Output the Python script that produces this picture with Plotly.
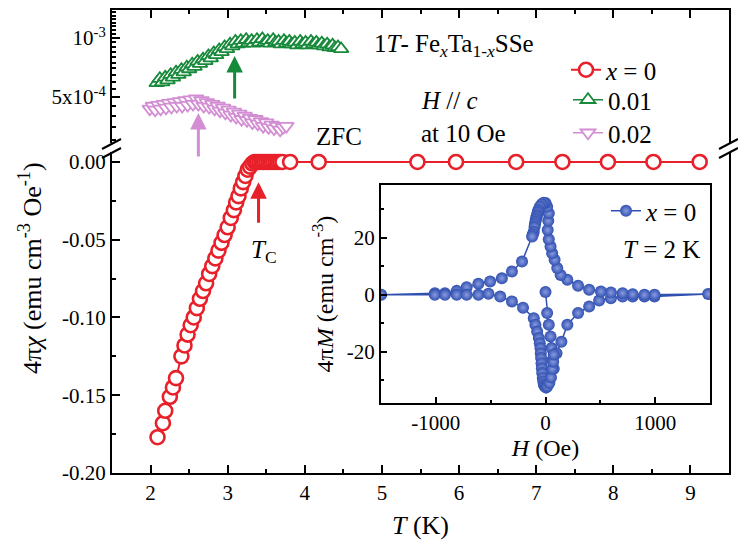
import math

import plotly.graph_objects as go

# =============================================================================
# DATOS
# =============================================================================

# ZFC, x = 0 (panel inferior)
T_x0 = [
    2.09, 2.16, 2.19, 2.25, 2.29, 2.33, 2.40, 2.44, 2.48, 2.52,
    2.56, 2.60, 2.64, 2.68, 2.72, 2.76, 2.80, 2.84, 2.88, 2.92,
    2.96, 3.00, 3.04, 3.08, 3.11, 3.14, 3.17, 3.20, 3.23, 3.26,
    3.29, 3.32, 3.35, 3.38, 3.41, 3.44, 3.47, 3.50, 3.53, 3.56,
    3.59, 3.62, 3.65, 3.68, 3.71, 3.81, 4.18, 5.46, 5.96, 6.74,
    7.34, 7.93, 8.52, 9.12,
]
chi_x0 = [
    -0.177, -0.168, -0.160, -0.151, -0.145, -0.139, -0.125, -0.118, -0.111, -0.105,
    -0.100, -0.094, -0.088, -0.083, -0.078, -0.072, -0.067, -0.062, -0.057, -0.052,
    -0.047, -0.042, -0.036, -0.031, -0.026, -0.022, -0.017, -0.013, -0.009, -0.005,
    -0.003, -0.001, 0.0, 0.0, 0.0, 0.0, 0.0, 0.0, 0.0, 0.0,
    0.0, 0.0, 0.0, 0.0, 0.0, 0.0, 0.0, 0.0, 0.0, 0.0,
    0.0, 0.0, 0.0, 0.0,
]

# x = 0.01 (panel superior, escala log)
T_x001 = [
    2.08, 2.12, 2.15, 2.19, 2.22, 2.26, 2.29, 2.33, 2.36, 2.40,
    2.43, 2.47, 2.50, 2.54, 2.57, 2.61, 2.64, 2.68, 2.71, 2.75,
    2.78, 2.82, 2.85, 2.89, 2.92, 2.96, 2.99, 3.03, 3.06, 3.10,
    3.13, 3.17, 3.20, 3.24, 3.27, 3.31, 3.34, 3.38, 3.41, 3.45,
    3.48, 3.52, 3.55, 3.59, 3.62, 3.66, 3.69, 3.73, 3.76, 3.80,
    3.83, 3.87, 3.90, 3.94, 3.97, 4.01, 4.04, 4.08, 4.11, 4.15,
    4.18, 4.22, 4.25, 4.29, 4.32, 4.36, 4.39, 4.43, 4.47,
]
chi_x001 = [
    5.90e-4, 6.20e-4, 5.95e-4, 6.30e-4, 6.10e-4, 6.50e-4, 6.30e-4, 6.70e-4, 6.50e-4, 6.90e-4,
    6.70e-4, 7.10e-4, 6.95e-4, 7.35e-4, 7.15e-4, 7.60e-4, 7.40e-4, 7.80e-4, 7.65e-4, 8.10e-4,
    7.90e-4, 8.40e-4, 8.20e-4, 8.70e-4, 8.50e-4, 9.00e-4, 8.80e-4, 9.30e-4, 9.10e-4, 9.60e-4,
    9.30e-4, 9.70e-4, 9.40e-4, 9.80e-4, 9.45e-4, 9.70e-4, 9.40e-4, 9.80e-4, 9.50e-4, 9.90e-4,
    9.50e-4, 9.70e-4, 9.40e-4, 9.80e-4, 9.50e-4, 9.60e-4, 9.30e-4, 9.70e-4, 9.40e-4, 9.60e-4,
    9.30e-4, 9.50e-4, 9.20e-4, 9.60e-4, 9.30e-4, 9.50e-4, 9.20e-4, 9.60e-4, 9.30e-4, 9.50e-4,
    9.20e-4, 9.40e-4, 9.10e-4, 9.30e-4, 9.00e-4, 9.20e-4, 8.90e-4, 9.00e-4, 8.80e-4,
]

# x = 0.02 (panel superior, escala log)
T_x002 = [
    1.99, 2.03, 2.06, 2.10, 2.13, 2.17, 2.20, 2.24, 2.27, 2.31,
    2.34, 2.38, 2.41, 2.45, 2.48, 2.52, 2.55, 2.59, 2.62, 2.66,
    2.69, 2.73, 2.76, 2.80, 2.83, 2.87, 2.90, 2.94, 2.97, 3.01,
    3.04, 3.08, 3.11, 3.15, 3.18, 3.22, 3.25, 3.29, 3.32, 3.36,
    3.39, 3.43, 3.46, 3.50, 3.53, 3.57, 3.60, 3.64, 3.68, 3.72,
    3.76,
]
chi_x002 = [
    4.35e-4, 4.50e-4, 4.30e-4, 4.55e-4, 4.35e-4, 4.60e-4, 4.40e-4, 4.65e-4, 4.45e-4, 4.70e-4,
    4.50e-4, 4.75e-4, 4.50e-4, 4.80e-4, 4.55e-4, 4.85e-4, 4.60e-4, 4.90e-4, 4.60e-4, 4.80e-4,
    4.50e-4, 4.70e-4, 4.45e-4, 4.60e-4, 4.35e-4, 4.50e-4, 4.25e-4, 4.40e-4, 4.15e-4, 4.30e-4,
    4.05e-4, 4.20e-4, 3.95e-4, 4.10e-4, 3.85e-4, 4.00e-4, 3.80e-4, 3.90e-4, 3.70e-4, 3.85e-4,
    3.65e-4, 3.75e-4, 3.55e-4, 3.70e-4, 3.50e-4, 3.60e-4, 3.45e-4, 3.55e-4, 3.40e-4, 3.50e-4,
    3.55e-4,
]

# Ciclo M(H) a T = 2 K (inset)
H_loop = [
    0, 15, 30, 46, 55, 65, 75,
    100, 145, 199, 297, 398, 489, 596, 703, 795, 902, 994, 1483,
    994, 902, 795, 703, 596, 505, 398, 297, 199, 138,
    107, 83, 61, 46, 30, 20, 25, 30, 15, 0,
    -16, -35, -52, -65, -71, -78, -83, -88, -92, -96,
    -100, -107, -115, -122, -214, -306, -398, -505, -612, -719,
    -810, -917, -1009, -1498,
    -1009, -917, -810, -719, -612, -520, -413, -306, -205, -107,
    -92, -76, -61, -52, -46, -43, -40, -36, -33, -30,
    -25, -20, -15, -5, 5, 15, 35, 50, 62, 70, 75,
]
M_loop = [
    1.0, -6.4, -10.5, -14.6, -18.7, -22.8, -26.0,
    -20.5, -16.5, -10.5, -6.4, -4.1, -2.0, -1.2, -0.6, -0.6, -0.6, -0.6, 0.3,
    0.0, 0.0, 0.2, 0.6, 0.8, 1.2, 1.8, 3.2, 5.3, 7.0,
    9.4, 12.3, 14.6, 17.0, 19.5, 22.8, 26.0, 28.7, 31.0, 32.3,
    32.4, 31.8, 31.0, 29.8, 29.0, 28.0, 27.3, 26.5, 25.7, 24.8,
    23.8, 22.2, 21.3, 20.5, 11.7, 8.2, 5.8, 4.7, 3.9, 2.7,
    1.4, 0.6, 0.6, 0.0,
    0.0, 0.0, 0.0, 0.0, 0.0, 0.4, -0.6, -2.3, -4.5, -8.2,
    -10.5, -12.9, -15.2, -17.0, -18.7, -20.5, -22.2, -24.0, -25.8, -27.5,
    -29.2, -30.5, -31.6, -32.2, -32.6, -32.2, -31.0, -29.0, -26.0, -23.5, -21.0,
]

# Flechas (T, valor en la punta)
arrow_x0 = (3.40, -0.013)
arrow_x001 = (3.09, 8.1e-4)
arrow_x002 = (2.62, 4.14e-4)


# =============================================================================
# GEOMETRIA
# =============================================================================

W, HGT = 746, 546
# la página añade 8 px de margen al cuerpo: se compensa en los márgenes
OFF = 8
PX0, PX1, PY0, PY1 = 112, 729, 10, 473      # área de trazado en la página
PW = PX1 - PX0
PH = PY1 - PY0
ML = PX0 - OFF
MT = PY0 - OFF
MR = W - ML - PW
MB = HGT - MT - PH


def fx(px):
    return (px - PX0) / PW


def fy(py):
    return (PY1 - py) / PH


FONT = "Liberation Serif, Times New Roman, serif"
ROJO = "#e8202a"
VERDE = "#17893a"
ROSA = "#d38ed3"
AZUL = "#3050b0"


# =============================================================================
# FIGURA
# =============================================================================

fig = go.Figure()

fig.add_trace(
    go.Scatter(
        x=T_x0, y=chi_x0, xaxis="x", yaxis="y",
        mode="lines+markers", name="<i>x</i> = 0", legend="legend",
        line=dict(color=ROJO, width=2),
        marker=dict(symbol="circle", size=14, color="white",
                    line=dict(color=ROJO, width=2.6)),
    )
)

fig.add_trace(
    go.Scatter(
        x=T_x001, y=chi_x001, xaxis="x2", yaxis="y2",
        mode="lines+markers", name="0.01", legend="legend3",
        line=dict(color=VERDE, width=1.5),
        marker=dict(symbol="triangle-up", size=13, color="white",
                    line=dict(color=VERDE, width=1.8)),
    )
)

fig.add_trace(
    go.Scatter(
        x=T_x002, y=chi_x002, xaxis="x2", yaxis="y2",
        mode="lines+markers", name="0.02", legend="legend4",
        line=dict(color=ROSA, width=1.5),
        marker=dict(symbol="triangle-down", size=13, color="white",
                    line=dict(color=ROSA, width=1.8)),
    )
)

fig.add_trace(
    go.Scatter(
        x=H_loop, y=M_loop, xaxis="x3", yaxis="y3",
        mode="lines+markers", name="<i>x</i> = 0", legend="legend2",
        line=dict(color=AZUL, width=1.5),
        marker=dict(size=12, color=AZUL,
                    gradient=dict(type="radial", color="#8a9be0"),
                    line=dict(width=0)),
    )
)

# ejes
eje = dict(
    showline=True, linecolor="black", linewidth=2,
    ticks="inside", tickcolor="black", tickwidth=2,
    showgrid=False, zeroline=False, automargin=False,
    tickfont=dict(family=FONT, size=21, color="black"),
)
menor = dict(ticks="inside", tickwidth=2, tickcolor="black")

minor_log = [round(v * 1e-5, 7) for v in range(30, 140, 5) if v not in (50, 100)]

fig.update_layout(
    xaxis=dict(
        eje, domain=[0, 1], anchor="y", range=[1.5, 9.5],
        dtick=1, tick0=0, ticklen=8,
        minor=dict(menor, dtick=0.5, tick0=0, ticklen=4),
        title=dict(text="<i>T</i> (K)", font=dict(family=FONT, size=26, color="black"), standoff=12),
    ),
    xaxis2=dict(
        eje, domain=[0, 1], anchor="y2", matches="x", side="top",
        dtick=1, tick0=0, ticklen=8, showticklabels=False,
        minor=dict(menor, dtick=0.5, tick0=0, ticklen=4),
    ),
    yaxis=dict(
        eje, domain=[0, fy(152)], anchor="x", range=[-0.2, 0.0064], mirror=True,
        tickvals=[-0.2, -0.15, -0.1, -0.05, 0.0],
        ticktext=["-0.20", "-0.15", "-0.10", "-0.05", "0.00"],
        ticklen=8,
        minor=dict(menor, dtick=0.025, tick0=0, ticklen=4),
    ),
    yaxis2=dict(
        eje, domain=[fy(143), 1], anchor="x2", type="log", mirror=True,
        range=[-3.5357, -2.857],
        tickvals=[5e-4, 1e-3],
        ticktext=["5x10<sup>-4</sup>", "10<sup>-3</sup>"],
        ticklen=8,
        minor=dict(menor, tickmode="array", tickvals=minor_log, ticklen=4),
    ),
    xaxis3=dict(
        eje, domain=[fx(381), fx(710)], anchor="y3", range=[-1500, 1500], mirror=True,
        tickvals=[-1000, 0, 1000], ticktext=["-1000", "0", "1000"], ticklen=6,
        minor=dict(menor, dtick=500, tick0=0, ticklen=3),
        title=dict(text="<i>H</i> (Oe)", font=dict(family=FONT, size=24, color="black"), standoff=0),
    ),
    yaxis3=dict(
        eje, domain=[fy(403), fy(185)], anchor="x3", range=[-38, 38.6], mirror=True,
        tickvals=[-20, 0, 20], ticktext=["-20", "0", "20"], ticklen=6,
        minor=dict(menor, dtick=10, tick0=0, ticklen=3),
        title=dict(text="4π<i>M</i> (emu cm<sup>-3</sup>)", font=dict(family=FONT, size=24, color="black"), standoff=6),
    ),
)

# leyendas (una por fila para fijar su posición)
ley = dict(
    xanchor="left", yanchor="middle", bgcolor="rgba(0,0,0,0)",
    font=dict(family=FONT, size=25, color="black"), itemwidth=30,
)
fig.update_layout(
    showlegend=True,
    legend=dict(ley, x=fx(566), y=fy(70)),
    legend3=dict(ley, x=fx(568), y=fy(100)),
    legend4=dict(ley, x=fx(568), y=fy(133)),
    legend2=dict(ley, x=fx(606), y=fy(211)),
)

# textos
txt = dict(family=FONT, size=25, color="black")
anotaciones = [
    dict(text="1<i>T</i>- Fe<sub><i>x</i></sub>Ta<sub>1-<i>x</i></sub>SSe",
         x=fx(372), y=fy(45), xanchor="left"),
    dict(text="<i>H</i> // <i>c</i>", x=fx(419), y=fy(100), xanchor="left"),
    dict(text="at 10 Oe", x=fx(419), y=fy(133), xanchor="left"),
    dict(text="ZFC", x=fx(339), y=fy(137), xanchor="center"),
    dict(text="<i>T</i><sub>C</sub>", x=fx(264), y=fy(252), xanchor="center"),
    dict(text="<i>T</i> = 2 K", x=fx(661), y=fy(250), xanchor="center"),
]
for a in anotaciones:
    fig.add_annotation(
        xref="paper", yref="paper", showarrow=False, yanchor="middle",
        font=txt, **a,
    )

# título del eje y principal (centrado como en la figura, no en el dominio)
fig.add_annotation(
    text="4π<i>χ</i> (emu cm<sup>-3</sup> Oe<sup>-1</sup>)",
    xref="paper", yref="paper", x=fx(30), y=fy(268),
    xanchor="center", yanchor="middle", textangle=-90, showarrow=False,
    font=dict(family=FONT, size=26, color="black"),
)

# flechas
flechas = [
    ("x", "y", arrow_x0[0], arrow_x0[1], 42, ROJO),
    ("x2", "y2", arrow_x001[0], math.log10(arrow_x001[1]), 44, VERDE),
    ("x2", "y2", arrow_x002[0], math.log10(arrow_x002[1]), 45, ROSA),
]
for xr, yr, xa, ya, ay, col in flechas:
    fig.add_annotation(
        xref=xr, yref=yr, x=xa, y=ya, text="", showarrow=True,
        ax=0, ay=ay, arrowhead=2, arrowsize=1.1, arrowwidth=3, arrowcolor=col,
    )

# marcas de corte del eje
for xa in (0, 1):
    for y0, y1 in ((0, 8), (-9, -1)):
        fig.add_shape(
            type="line", xref="paper", yref="paper",
            xsizemode="pixel", ysizemode="pixel",
            xanchor=xa, yanchor=fy(148),
            x0=-10, x1=9, y0=y0 - 1, y1=y1 + 1,
            line=dict(color="black", width=2),
        )

fig.update_layout(
    width=W, height=HGT,
    margin=dict(l=ML, r=MR, t=MT, b=MB),
    paper_bgcolor="white", plot_bgcolor="white",
    font=dict(family=FONT, color="black"),
)

fig.write_html("out.html")
